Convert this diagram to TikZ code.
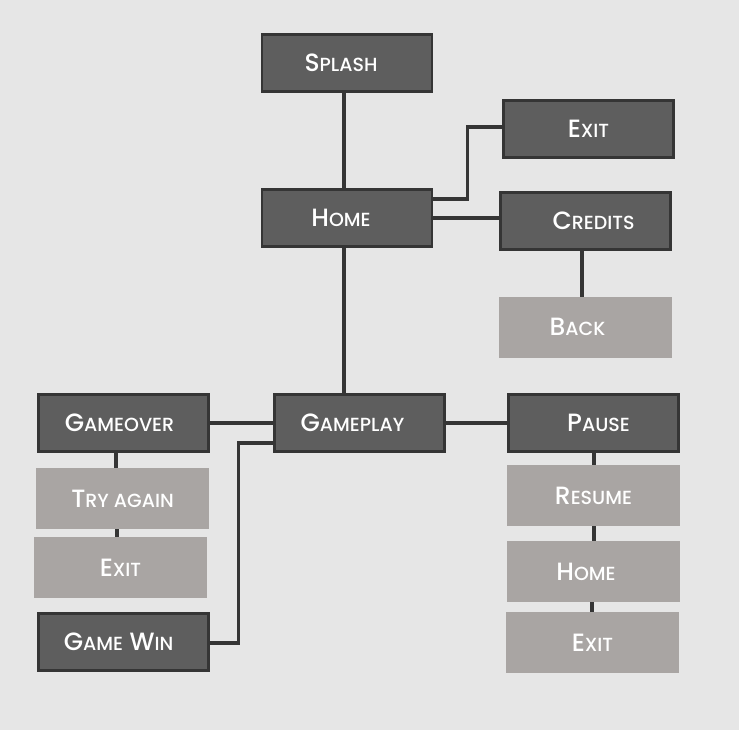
\documentclass[tikz,border=0pt]{standalone}
\usepackage{fontspec}
\setmainfont{Poppins Medium}
\usetikzlibrary{calc}
\definecolor{bg}{HTML}{E6E6E6}
\definecolor{darkfill}{HTML}{5E5E5E}
\definecolor{darkline}{HTML}{353535}
\definecolor{lightfill}{HTML}{A9A5A3}
\newcommand\smc[1]{{\fontsize{19}{19}\selectfont #1}}
\newcommand\sh[1]{\hspace*{#1}}
\tikzset{
  basebox/.style={minimum height=58pt, text=white, inner sep=0pt, outer sep=0pt,
    font=\fontsize{25}{25}\selectfont, text height=17pt, text depth=0pt},
  darkbox/.style={basebox, fill=darkfill, draw=darkline, line width=2.6pt, minimum width=170pt, minimum height=57pt},
  lightbox/.style={basebox, fill=lightfill, minimum width=173pt, minimum height=61pt},
  conn/.style={draw=darkline, line width=3.4pt}
}
\begin{document}
\begin{tikzpicture}[x=1pt,y=-1pt]
\fill[bg] (0,0) rectangle (739,730);
\useasboundingbox (0,0) rectangle (739,730);

\node[darkbox] (splash) at (347,63) {\sh{-12pt}S\smc{PLASH}};
\node[darkbox] (home) at (347,218) {\sh{-12pt}H\smc{OME}};
\node[darkbox] (exitT) at (588.5,129) {E\smc{XIT}};
\node[darkbox] (credits) at (585.5,221) {\sh{16pt}C\smc{REDITS}};
\node[lightbox] (back) at (585.5,327) {\sh{-16pt}B\smc{ACK}};

\node[darkbox] (gameover) at (123.5,423) {\sh{-8pt}G\smc{AMEOVER}};
\node[darkbox] (gameplay) at (359.5,423) {\sh{-14pt}G\smc{AMEPLAY}};
\node[darkbox] (gamewin) at (123.5,642) {\sh{-10pt}G\smc{AME} W\smc{IN}};
\node[lightbox] (tryagain) at (122.5,498.5) {T\smc{RY AGAIN}};
\node[lightbox] (exitL) at (120.5,567.5) {E\smc{XIT}};

\node[darkbox] (pause) at (593.5,423) {\sh{10pt}P\smc{AUSE}};
\node[lightbox] (resume) at (593.5,495.5) {R\smc{ESUME}};
\node[lightbox] (homeR) at (593,571.5) {\sh{-14pt}H\smc{OME}};
\node[lightbox] (exitR) at (592.5,642.5) {E\smc{XIT}};

% connectors
\draw[conn] ([xshift=-3pt]splash.south) -- ([xshift=-3pt]home.north);
\draw[conn] ([xshift=-3pt]home.south) -- ([xshift=-3pt]home.south |- gameplay.north);
\draw[conn] ([yshift=19pt]home.east) -| ([xshift=-36pt,yshift=2pt]exitT.west) -- ([yshift=2pt]exitT.west);
\draw[conn] (home.east) -- (home.east -| credits.west);
\draw[conn] ([xshift=-3.5pt]credits.south) -- ([xshift=-3.5pt]credits.south |- back.north);
\draw[conn] (gameplay.west) -- (gameover.east);
\draw[conn] (gameplay.east) -- (pause.west);
\draw[conn] ([yshift=-20pt]gameplay.west) -| ([xshift=30pt,yshift=-1pt]gamewin.east) -- ([yshift=-1pt]gamewin.east);
\draw[conn] ([xshift=-7.5pt]gameover.south) -- ([xshift=-7.5pt]gameover.south |- tryagain.north);
\draw[conn] ([xshift=-5.5pt]tryagain.south) -- ([xshift=-5.5pt]tryagain.south |- exitL.north);
\draw[conn] ([xshift=0.5pt]pause.south) -- ([xshift=0.5pt]pause.south |- resume.north);
\draw[conn] ([xshift=0.5pt]resume.south) -- ([xshift=0.5pt]resume.south |- homeR.north);
\draw[conn] ([xshift=-1pt]homeR.south) -- ([xshift=-1pt]homeR.south |- exitR.north);
\end{tikzpicture}
\end{document}
